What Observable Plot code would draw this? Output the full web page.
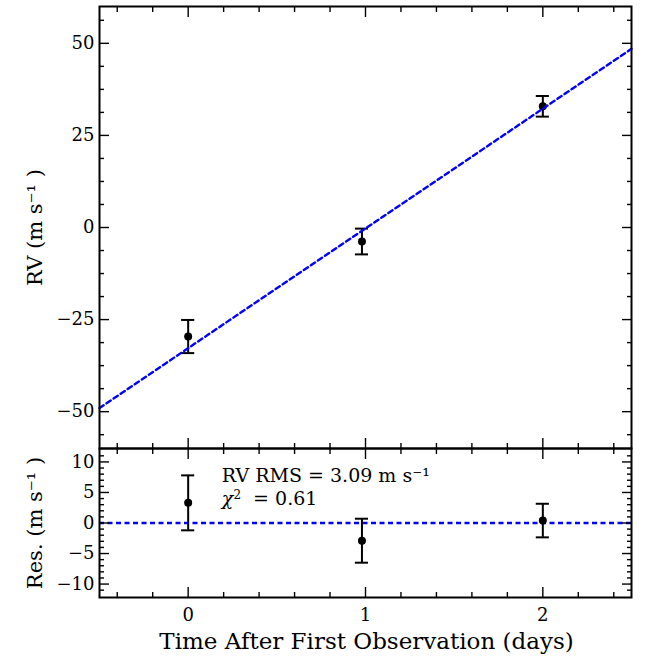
<!DOCTYPE html>
<html><head><meta charset="utf-8">
<script src="https://cdn.jsdelivr.net/npm/d3@7"></script>
<script src="https://cdn.jsdelivr.net/npm/@observablehq/plot@0.6"></script>
<style>body{margin:0;background:#fff} #chart svg{display:block}</style>
</head><body><div id="chart"></div>
<script>
// ---- data ----
const time = [0, 0.98, 2.0];
const rv = [-29.6, -3.8, 32.9];
const rvErr = [4.5, 3.5, 2.8];
const resid = [3.3, -2.9, 0.4];
const residErr = [4.5, 3.6, 2.75];
const fitTime = [-0.5, 2.5];
const fitRV = [-49.0, 48.5];
const xMajor = [0, 1, 2];
const xMinor = [-0.4, -0.2, 0.2, 0.4, 0.6, 0.8, 1.2, 1.4, 1.6, 1.8, 2.2, 2.4];
const rvMajor = [-50, -25, 0, 25, 50];
const rvMinor = [-56.25, -43.75, -37.5, -31.25, -18.75, -12.5, -6.25, 6.25, 12.5, 18.75, 31.25, 37.5, 43.75, 56.25];
const resMajor = [-10, -5, 0, 5, 10];
const resMinor = [-11, -9, -8, -7, -6, -4, -3, -2, -1, 1, 2, 3, 4, 6, 7, 8, 9, 11];
const statLines = ["RV RMS = 3.09 m s⁻¹", "χ²  = 0.61"];
const statY = [7.7, 3.9];
const statX = 0.19;

const pts = time.map((t, i) => ({t, rv: rv[i], err: rvErr[i], res: resid[i], rerr: residErr[i]}));
const fit = fitTime.map((t, i) => ({t, rv: fitRV[i]}));
const stats = statLines.map((s, i) => ({s, y: statY[i]}));

const font = "DejaVu Serif";
const blank = () => "";
const CAP = 0.037;
const DASH = "5,3.5";

function axes(yMajor, yMinor, showX) {
  const c = {fontSize: 18, strokeWidth: 1.4, label: null};
  return [
    Plot.axisY(yMajor, {anchor: "left", tickSize: -10, tickPadding: 15, ...c}),
    Plot.axisY(yMinor, {anchor: "left", tickSize: -5, tickFormat: blank, ...c}),
    Plot.axisY(yMajor, {anchor: "right", tickSize: -10, tickFormat: blank, ...c}),
    Plot.axisY(yMinor, {anchor: "right", tickSize: -5, tickFormat: blank, ...c}),
    Plot.axisX(xMajor, {anchor: "top", tickSize: -10, tickFormat: blank, ...c}),
    Plot.axisX(xMinor, {anchor: "top", tickSize: -5, tickFormat: blank, ...c}),
    Plot.axisX(xMajor, {anchor: "bottom", tickSize: -10, tickPadding: 21, tickFormat: showX ? (d => String(d)) : blank, ...c}),
    Plot.axisX(xMinor, {anchor: "bottom", tickSize: -5, tickFormat: blank, ...c})
  ];
}

function errMarks(yKey, eKey) {
  return [
    Plot.ruleX(pts, {x: "t", y1: d => d[yKey] - d[eKey], y2: d => d[yKey] + d[eKey], strokeWidth: 2, stroke: "black"}),
    Plot.ruleY(pts, {y: d => d[yKey] - d[eKey], x1: d => d.t - CAP, x2: d => d.t + CAP, strokeWidth: 2, stroke: "black"}),
    Plot.ruleY(pts, {y: d => d[yKey] + d[eKey], x1: d => d.t - CAP, x2: d => d.t + CAP, strokeWidth: 2, stroke: "black"}),
    Plot.dot(pts, {x: "t", y: yKey, r: 4, fill: "black", stroke: "none"})
  ];
}

const yLabel = (s) => Plot.text([s], {text: d => d, frameAnchor: "left", textAnchor: "middle", lineAnchor: "middle", dx: -64, rotate: -90, fontSize: 21, fill: "black"});

const topPlot = Plot.plot({
  width: 664, height: 448,
  marginTop: 6, marginBottom: 0, marginLeft: 99, marginRight: 33,
  style: {fontFamily: font, background: "white", overflow: "visible", color: "black"},
  x: {domain: [-0.5, 2.5]},
  y: {domain: [-60, 60]},
  marks: [
    ...errMarks("rv", "err"),
    Plot.line(fit, {x: "t", y: "rv", stroke: "#0000ff", strokeWidth: 2.4, strokeDasharray: DASH}),
    ...axes(rvMajor, rvMinor, false),
    yLabel("RV (m s⁻¹ )"),
    Plot.frame({strokeWidth: 2, stroke: "black"})
  ]
});

const botPlot = Plot.plot({
  width: 664, height: 216,
  marginTop: 0, marginBottom: 67, marginLeft: 99, marginRight: 33,
  style: {fontFamily: font, background: "white", overflow: "visible", color: "black"},
  x: {domain: [-0.5, 2.5]},
  y: {domain: [-12.2, 12.2]},
  marks: [
    Plot.ruleY([0], {stroke: "#0000ff", strokeWidth: 2.4, strokeDasharray: DASH}),
    ...errMarks("res", "rerr"),
    Plot.text(stats, {x: () => statX, y: "y", text: "s", textAnchor: "start", fontSize: 19, fill: "black"}),
    ...axes(resMajor, resMinor, true),
    yLabel("Res. (m s⁻¹ )"),
    Plot.text(["Time After First Observation (days)"], {text: d => d, frameAnchor: "bottom", lineAnchor: "middle", dy: 44, dx: 1, fontSize: 23, fill: "black"}),
    Plot.frame({strokeWidth: 2, stroke: "black"})
  ]
});

// italic chi with a raised 2, as in the reference
d3.select(botPlot).selectAll("text").filter(function() { return this.textContent === statLines[1]; }).each(function() {
  const t = d3.select(this);
  t.text(null);
  t.append("tspan").attr("font-style", "italic").text("χ");
  t.append("tspan").attr("font-size", 12).attr("dy", "-0.5em").text("2");
  t.append("tspan").attr("dy", "0.3em").text("  = 0.61");
});

const el = document.getElementById("chart");
el.append(topPlot, botPlot);
</script>
</body></html>
